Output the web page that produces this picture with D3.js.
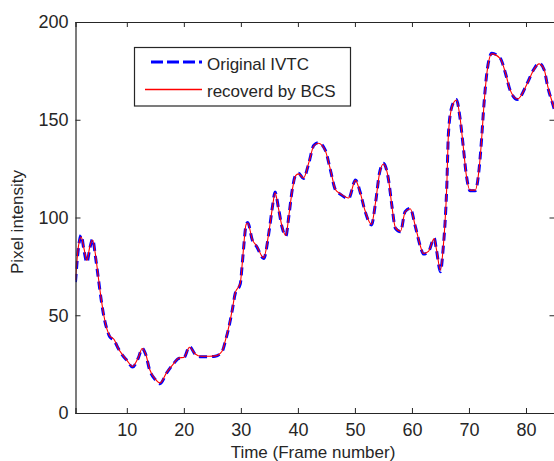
<!DOCTYPE html>
<html>
<head>
<meta charset="utf-8">
<script src="https://cdn.jsdelivr.net/npm/d3@7"></script>
<style>
  body { margin: 0; background: #fff; }
  text { font-family: "Liberation Sans", Arial, sans-serif; fill: #262626; }
</style>
</head>
<body>
<div id="chart"></div>
<script>
var frames = [1, 1.5, 2, 2.5, 3, 3.5, 4, 4.5, 5, 5.5, 6, 6.5, 7, 7.8, 8.5, 9.2, 10, 11, 12, 12.7,
  13.3, 14, 15, 15.8, 17, 18, 19.2, 20, 21, 22, 23, 24.5, 25.5, 26.7, 27.3, 27.9, 28.5, 29, 29.9, 30.2,
  30.5, 30.9, 31.2, 32, 32.8, 34, 34.9, 35.5, 36, 36.6, 37.2, 37.9, 38.4, 39, 39.6, 40.1, 41, 41.9, 42.8, 43.6,
  44.8, 45.7, 46.6, 47.4, 48.9, 50.1, 50.9, 51.8, 52.9, 53.6, 54.3, 55, 55.9, 56.5, 57.1, 58, 58.8, 59.7, 60.6, 61.5,
  62, 62.9, 63.9, 64.3, 65, 65.5, 65.8, 66.1, 66.4, 67, 67.8, 68.4, 69, 69.5, 70.2, 71.1, 71.7, 72.2, 72.6, 73.2,
  74, 75.5, 76.4, 77.2, 78.5, 80.2, 81.3, 82.3, 83.2, 83.8, 84.8, 85];

var original = [67, 84, 91, 83, 77, 84, 89, 80, 69, 58, 49, 43, 39, 37, 33, 29.7, 27, 23.5, 28, 33,
  30, 22, 17, 15, 20.5, 24.5, 28, 28.2, 34, 30, 28.8, 28.8, 29, 31.4, 37, 44, 52.7, 61, 66, 74.8,
  85, 96, 97.5, 88.5, 85, 79, 92, 104.7, 113, 104.7, 95.3, 90.5, 100.4, 114, 121.7, 122.6, 120, 127.7, 137, 138.3,
  134.5, 124.3, 114, 112, 109.8, 119.2, 113.2, 103, 96.2, 107.2, 122.6, 127.7, 119.2, 105.7, 94.5, 92.7, 103, 104.7, 95.3, 85,
  81.3, 82.5, 89.4, 83.4, 72.3, 85, 97, 115, 143, 156.7, 160.4, 151.6, 136.2, 122.6, 113.7, 113.7, 122.6, 139.6, 156.7, 175.4,
  184, 181.4, 173.8, 165.2, 160.4, 168.6, 175.4, 178.9, 175.4, 167, 157, 155];

var recovered = [68, 85, 90, 84, 78, 85, 88.5, 81, 69.5, 58.5, 49.5, 43, 39.5, 37.5, 33, 30, 27, 23.8, 28.3, 33,
  30.3, 22.4, 17.3, 15.4, 20.8, 24.5, 28.2, 28.4, 33.6, 30.2, 29, 29, 29.2, 31.6, 37.3, 44.3, 53, 61.3, 66.5, 75,
  85.5, 96.3, 97.2, 88.8, 85.3, 79.4, 92.3, 104.4, 112.6, 104.5, 95.6, 90.8, 100.6, 113.7, 121.4, 122.3, 120.2, 127.9, 136.7, 138,
  134.2, 124.6, 114.2, 112.3, 110, 119, 113, 103.3, 96.5, 107.4, 122.3, 127.4, 119.4, 105.5, 94.8, 93, 102.8, 104.5, 95.5, 85.2,
  81.6, 82.7, 89.2, 83.7, 73, 85.3, 97.4, 115.4, 142.6, 156.4, 160.1, 151.8, 136.4, 122.4, 114, 114, 122.8, 139.3, 156.4, 175.1,
  183.7, 181.2, 174, 165.4, 160.6, 168.4, 175.2, 178.6, 175.6, 167.3, 157.2, 155.3];

var xTicks = [10, 20, 30, 40, 50, 60, 70, 80];
var yTicks = [0, 50, 100, 150, 200];
var seriesNames = ['Original IVTC', 'recoverd by BCS'];
var seriesColors = ['#0000ff', '#ff0000'];

var W = 554, H = 461;
var plotLeft = 75.5, plotRight = 554.5, plotTop = 22, plotBottom = 413;

var svg = d3.select('#chart').append('svg')
  .attr('width', W)
  .attr('height', H);

var x = d3.scaleLinear().domain([1, 85]).range([plotLeft, plotRight]),
  y = d3.scaleLinear().domain([0, 200]).range([plotBottom, plotTop]);

svg.append('clipPath').attr('id', 'plot-clip')
  .append('rect')
    .attr('x', plotLeft).attr('y', plotTop)
    .attr('width', plotRight - plotLeft).attr('height', plotBottom - plotTop);

var lineGen = d3.line()
  .x(function(d) { return x(d[0]); })
  .y(function(d) { return y(d[1]); })
  .curve(d3.curveMonotoneX);

var lines = svg.append('g').attr('clip-path', 'url(#plot-clip)');

lines.append('path')
  .datum(frames.map(function(f, i) { return [f, original[i]]; }))
  .attr('d', lineGen)
  .attr('fill', 'none')
  .attr('stroke', seriesColors[0])
  .attr('stroke-width', 3)
  .attr('stroke-dasharray', '8,5');

lines.append('path')
  .datum(frames.map(function(f, i) { return [f, recovered[i]]; }))
  .attr('d', lineGen)
  .attr('fill', 'none')
  .attr('stroke', seriesColors[1])
  .attr('stroke-width', 1.1);

// axes: ticks point inwards, box on all sides
var tickLen = 5;
svg.append('g').attr('transform', 'translate(0,' + plotBottom + ')')
  .call(d3.axisBottom(x).tickValues(xTicks).tickSize(-tickLen).tickPadding(10));
svg.append('g').attr('transform', 'translate(0,' + plotTop + ')')
  .call(d3.axisTop(x).tickValues(xTicks).tickSize(-tickLen).tickFormat(''));
svg.append('g').attr('transform', 'translate(' + plotLeft + ',0)')
  .call(d3.axisLeft(y).tickValues(yTicks).tickSize(-tickLen).tickPadding(7));
svg.append('g').attr('transform', 'translate(' + plotRight + ',0)')
  .call(d3.axisRight(y).tickValues(yTicks).tickSize(-tickLen).tickFormat(''));

svg.selectAll('.domain').attr('stroke', '#262626').attr('stroke-width', 1.2);
svg.selectAll('.tick line').attr('stroke', '#262626');
svg.selectAll('.tick text')
  .attr('font-size', 18)
  .attr('font-family', '"Liberation Sans", Arial, sans-serif')
  .attr('fill', '#262626');

svg.append('text')
  .attr('x', 313)
  .attr('y', 458)
  .attr('text-anchor', 'middle')
  .attr('font-size', 17)
  .text('Time (Frame number)');

svg.append('text')
  .attr('transform', 'translate(23,222) rotate(-90)')
  .attr('text-anchor', 'middle')
  .attr('font-size', 17)
  .text('Pixel intensity');

// legend
var legend = svg.append('g');
legend.append('rect')
  .attr('x', 134.5).attr('y', 47.5)
  .attr('width', 216).attr('height', 58.5)
  .attr('fill', '#fff')
  .attr('stroke', '#262626')
  .attr('stroke-width', 1.2);
legend.append('path')
  .attr('d', 'M151,62H202')
  .attr('fill', 'none')
  .attr('stroke', seriesColors[0]).attr('stroke-width', 3).attr('stroke-dasharray', '12,4');
legend.append('path')
  .attr('d', 'M145,89.5H202')
  .attr('fill', 'none')
  .attr('stroke', seriesColors[1]).attr('stroke-width', 1.5);
legend.selectAll('text.lbl')
  .data(seriesNames)
  .enter().append('text')
    .attr('class', 'lbl')
    .attr('x', 207)
    .attr('y', function(d, i) { return i === 0 ? 70 : 97; })
    .attr('font-size', 17)
    .text(function(d) { return d; });
</script>
</body>
</html>
